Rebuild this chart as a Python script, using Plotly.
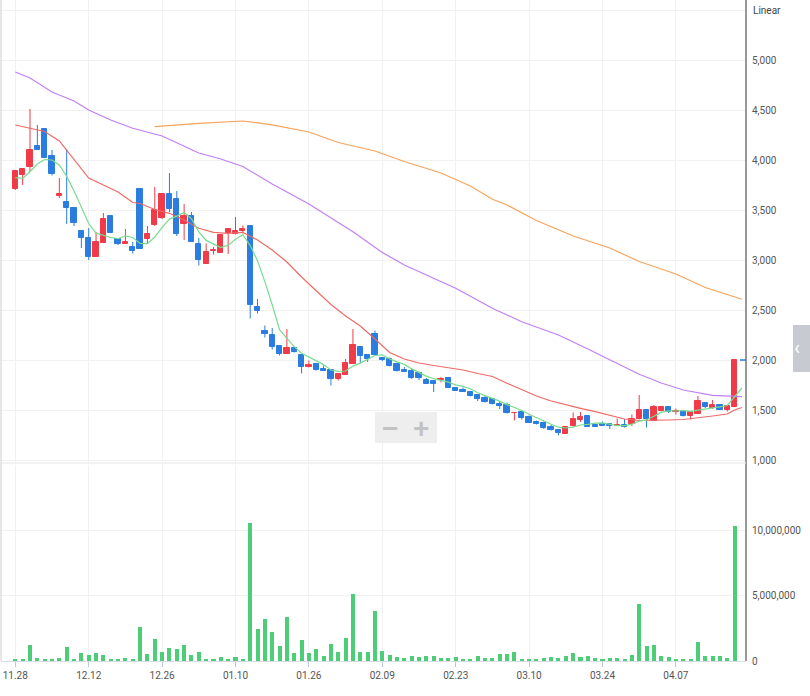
import plotly.graph_objects as go
import pandas as pd

# ---------------- DATA ----------------
dates = [
    "2022-11-28", "2022-11-29", "2022-11-30",
    "2022-12-01", "2022-12-02", "2022-12-05", "2022-12-06", "2022-12-07", "2022-12-08", "2022-12-09",
    "2022-12-12", "2022-12-13", "2022-12-14", "2022-12-15", "2022-12-16", "2022-12-19", "2022-12-20",
    "2022-12-21", "2022-12-22", "2022-12-23", "2022-12-26", "2022-12-27", "2022-12-28", "2022-12-29",
    "2023-01-02", "2023-01-03", "2023-01-04", "2023-01-05", "2023-01-06", "2023-01-09", "2023-01-10",
    "2023-01-11", "2023-01-12", "2023-01-13", "2023-01-16", "2023-01-17", "2023-01-18", "2023-01-19",
    "2023-01-20", "2023-01-25", "2023-01-26", "2023-01-27", "2023-01-30", "2023-01-31",
    "2023-02-01", "2023-02-02", "2023-02-03", "2023-02-06", "2023-02-07", "2023-02-08", "2023-02-09",
    "2023-02-10", "2023-02-13", "2023-02-14", "2023-02-15", "2023-02-16", "2023-02-17", "2023-02-20",
    "2023-02-21", "2023-02-22", "2023-02-23", "2023-02-24", "2023-02-27", "2023-02-28",
    "2023-03-02", "2023-03-03", "2023-03-06", "2023-03-07", "2023-03-08", "2023-03-09", "2023-03-10",
    "2023-03-13", "2023-03-14", "2023-03-15", "2023-03-16", "2023-03-17", "2023-03-20", "2023-03-21",
    "2023-03-22", "2023-03-23", "2023-03-24", "2023-03-27", "2023-03-28", "2023-03-29", "2023-03-30",
    "2023-03-31", "2023-04-03", "2023-04-04", "2023-04-05", "2023-04-06", "2023-04-07", "2023-04-10",
    "2023-04-11", "2023-04-12", "2023-04-13", "2023-04-14", "2023-04-17", "2023-04-18", "2023-04-19",
]

tick_dates = ["2022-11-28", "2022-12-12", "2022-12-26", "2023-01-10", "2023-01-26",
              "2023-02-09", "2023-02-23", "2023-03-10", "2023-03-24", "2023-04-07"]
tick_labels = ["11.28", "12.12", "12.26", "01.10", "01.26", "02.09", "02.23", "03.10", "03.24", "04.07"]

opens = [3710, 3855, 3930, 4140, 4310, 4040, 3645, 3580, 3520, 3290,
         3220, 3035, 3175, 3440, 3210, 3165, 3130, 3710, 3210, 3355,
         3420, 3660, 3610, 3360, 3440, 3160, 2965, 3095, 3075, 3275,
         3260, 3290, 3340, 2530, 2290, 2250, 2140, 2065, 2120, 2050,
         1935, 1960, 1910, 1900, 1815, 1855, 1965, 2130, 2050, 2265,
         2020, 2015, 1960, 1900, 1890, 1870, 1805, 1795, 1800, 1820,
         1720, 1700, 1680, 1650, 1620, 1615, 1565, 1555, 1470, 1485,
         1430, 1380, 1375, 1330, 1305, 1265, 1340, 1400, 1440, 1350,
         1365, 1365, 1345, 1350, 1360, 1410, 1500, 1395, 1490, 1530,
         1485, 1495, 1445, 1465, 1570, 1525, 1555, 1500, 1535]
highs = [3900, 3920, 4510, 4350, 4310, 4100, 3820, 4110, 3525, 3290,
         3320, 3280, 3470, 3450, 3210, 3310, 3180, 3710, 3340, 3730,
         3670, 3870, 3690, 3560, 3480, 3220, 3165, 3130, 3255, 3315,
         3430, 3345, 3350, 2610, 2345, 2320, 2140, 2310, 2135, 2050,
         1995, 1965, 1945, 1905, 1870, 2010, 2310, 2135, 2055, 2295,
         2030, 2025, 1975, 1930, 1915, 1885, 1820, 1800, 1830, 1825,
         1725, 1725, 1685, 1660, 1645, 1620, 1585, 1575, 1480, 1490,
         1445, 1395, 1385, 1350, 1310, 1340, 1475, 1480, 1445, 1355,
         1385, 1370, 1415, 1410, 1455, 1650, 1505, 1550, 1540, 1535,
         1515, 1500, 1485, 1640, 1575, 1600, 1560, 1550, 2000]
lows = [3700, 3750, 3880, 4100, 4020, 3845, 3620, 3360, 3340, 3120,
        3000, 3030, 3170, 3270, 3150, 3160, 3065, 3110, 3165, 3340,
        3410, 3480, 3240, 3200, 3180, 2945, 2960, 3055, 3070, 3060,
        3255, 3265, 2415, 2465, 2225, 2105, 2045, 2060, 2075, 1865,
        1925, 1895, 1890, 1745, 1795, 1850, 1960, 1970, 1980, 2050,
        1990, 1935, 1885, 1880, 1810, 1800, 1760, 1680, 1775, 1720,
        1690, 1680, 1635, 1590, 1575, 1555, 1510, 1465, 1395, 1405,
        1370, 1355, 1310, 1295, 1245, 1260, 1335, 1380, 1330, 1330,
        1340, 1310, 1340, 1325, 1340, 1405, 1325, 1390, 1485, 1470,
        1455, 1435, 1405, 1460, 1520, 1510, 1500, 1485, 1530]
closes = [3890, 3910, 4100, 4100, 4025, 3865, 3665, 3525, 3375, 3225,
          3035, 3180, 3410, 3275, 3165, 3180, 3095, 3115, 3260, 3500,
          3660, 3510, 3265, 3445, 3185, 3005, 3080, 3100, 3250, 3310,
          3295, 3310, 2555, 2495, 2265, 2135, 2065, 2120, 2085, 1935,
          1950, 1905, 1895, 1815, 1865, 1970, 2150, 2045, 2010, 2050,
          2005, 1945, 1895, 1885, 1825, 1825, 1765, 1765, 1810, 1725,
          1695, 1685, 1645, 1615, 1580, 1560, 1545, 1470, 1475, 1425,
          1375, 1365, 1325, 1300, 1275, 1335, 1410, 1430, 1335, 1335,
          1345, 1345, 1355, 1335, 1410, 1500, 1410, 1530, 1530, 1485,
          1495, 1445, 1480, 1590, 1530, 1555, 1505, 1545, 2000]
volumes = [155000, 77000, 1240000, 232000, 155000, 155000, 232000, 1110000, 155000, 620000,
           464000, 620000, 464000, 155000, 155000, 232000, 155000, 2630000, 541000, 1700000,
           696000, 1030000, 928000, 1240000, 464000, 696000, 155000, 77000, 309000, 155000,
           309000, 77000, 10550000, 2470000, 3250000, 2240000, 1160000, 3400000, 620000, 1620000,
           620000, 928000, 387000, 1310000, 696000, 1780000, 5100000, 696000, 696000, 3790000,
           773000, 464000, 309000, 232000, 387000, 309000, 387000, 387000, 232000, 232000,
           309000, 155000, 155000, 387000, 232000, 232000, 541000, 541000, 696000, 155000,
           155000, 155000, 232000, 309000, 232000, 387000, 620000, 309000, 387000, 232000,
           155000, 232000, 232000, 155000, 464000, 4330000, 1160000, 1240000, 387000, 309000,
           155000, 155000, 155000, 1470000, 387000, 387000, 387000, 232000, 10360000]

# MA5 values before enough history, rest computed from closes
ma5_head = [3823, 3817, 3883, 3960]
ma5_next = 1720  # value drawn one step past the last session

# longer moving averages (session index -> value)
ma20_idx = [0, 2, 4, 6, 8, 10, 12, 14, 16, 17, 19, 21, 23, 25, 27, 29, 31, 33, 35, 37, 39,
            41, 43, 45, 47, 49, 51, 53, 55, 57, 59, 61, 63, 65, 67, 69, 71, 73, 75, 77, 79,
            81, 83, 85, 87, 89, 91, 93, 95, 97, 98, 99]
ma20_val = [4350, 4320, 4285, 4190, 4010, 3820, 3750, 3680, 3575, 3565, 3505, 3467, 3400,
            3317, 3277, 3267, 3277, 3200, 3100, 2980, 2830, 2690, 2555, 2440, 2340, 2210,
            2075, 2010, 1970, 1945, 1920, 1900, 1865, 1835, 1767, 1700, 1640, 1590, 1550,
            1517, 1483, 1445, 1410, 1395, 1395, 1400, 1405, 1420, 1440, 1460, 1500, 1525]

ma60_idx = [0, 2, 5, 8, 10, 13, 16, 20, 25, 28, 31, 35, 40, 46, 50, 53, 60, 65, 69, 74,
            78, 81, 85, 88, 91, 95, 99]
ma60_val = [4880, 4820, 4680, 4590, 4500, 4400, 4317, 4240, 4070, 4010, 3935, 3760, 3560,
            3283, 3075, 2950, 2717, 2517, 2383, 2250, 2110, 2000, 1857, 1770, 1700, 1647, 1633]

ma120_idx = [19, 25, 31, 35, 40, 44, 49, 53, 58, 62, 65, 67, 71, 76, 81, 85, 90, 94, 99]
ma120_val = [4333, 4367, 4390, 4352, 4280, 4175, 4090, 3985, 3870, 3740, 3607, 3550, 3395,
             3240, 3120, 2985, 2860, 2725, 2607]

# ---------------- BUILD ----------------
RED = "#f13b49"
BLUE = "#2b7de0"
x = list(range(len(dates)))
tickvals = [dates.index(d) for d in tick_dates]

ma5 = pd.Series(closes).rolling(5).mean().tolist()
ma5[:4] = ma5_head
ma5_x = x + [len(dates)]
ma5_y = ma5 + [ma5_next]

body_base = [min(o, c) for o, c in zip(opens, closes)]
body_h = [abs(c - o) for o, c in zip(opens, closes)]
body_col = [RED if c >= o else BLUE for o, c in zip(opens, closes)]


def wick_xy(up):
    xs, ys = [], []
    for i, (o, h, l, c) in enumerate(zip(opens, highs, lows, closes)):
        if (c >= o) == up:
            xs += [i, i, None]
            ys += [l, h, None]
    return xs, ys


fig = go.Figure()

wx, wy = wick_xy(True)
fig.add_trace(go.Scatter(x=wx, y=wy, mode="lines", line=dict(color=RED, width=1),
                         hoverinfo="skip", showlegend=False))
wx, wy = wick_xy(False)
fig.add_trace(go.Scatter(x=wx, y=wy, mode="lines", line=dict(color=BLUE, width=1),
                         hoverinfo="skip", showlegend=False))
fig.add_trace(go.Bar(x=x, y=body_h, base=body_base, width=0.72,
                     marker=dict(color=body_col, line=dict(color=body_col, width=1)),
                     showlegend=False, xaxis="x", yaxis="y"))

fig.add_trace(go.Scatter(x=ma120_idx, y=ma120_val, mode="lines",
                         line=dict(color="#f6a35b", width=1.2), showlegend=False))
fig.add_trace(go.Scatter(x=ma60_idx, y=ma60_val, mode="lines",
                         line=dict(color="#c17ff6", width=1.2), showlegend=False))
fig.add_trace(go.Scatter(x=ma20_idx, y=ma20_val, mode="lines",
                         line=dict(color="#ef6a66", width=1.2), showlegend=False))
fig.add_trace(go.Scatter(x=ma5_x, y=ma5_y, mode="lines",
                         line=dict(color="#78dc8f", width=1.2), showlegend=False))

fig.add_trace(go.Bar(x=x, y=volumes, width=0.55, marker=dict(color="#4ecd78", line=dict(width=0)),
                     showlegend=False, xaxis="x2", yaxis="y2"))

GRID = "#f1f1f1"
FONT = dict(family="Roboto, Liberation Sans, Arial", size=10, color="#555555")
PRICE_BOTTOM = (661 - 463) / 661
VOL_TOP = (661 - 465) / 661

fig.update_layout(
    width=810, height=696,
    margin=dict(l=1, r=64, t=0, b=35),
    paper_bgcolor="white", plot_bgcolor="white",
    bargap=0, showlegend=False,
    font=FONT,
    xaxis=dict(domain=[0, 1], anchor="y", range=[-1.95, 99.55], tickvals=tickvals,
               showticklabels=False, showgrid=True, gridcolor=GRID, zeroline=False,
               showline=False, ticks=""),
    xaxis2=dict(domain=[0, 1], anchor="y2", matches="x", range=[-1.95, 99.55],
                tickvals=tickvals, ticktext=tick_labels, showgrid=True, gridcolor=GRID,
                zeroline=False, showline=True, linecolor="#d6dce6", linewidth=1,
                ticks="outside", ticklen=5, tickcolor="#bcc6d8", tickfont=FONT),
    yaxis=dict(domain=[PRICE_BOTTOM, 1], anchor="x", side="right", range=[970, 5600],
               tickvals=[1000, 1500, 2000, 2500, 3000, 3500, 4000, 4500, 5000, 5500],
               ticktext=["1,000", "1,500", "2,000", "2,500", "3,000", "3,500", "4,000",
                         "4,500", "5,000", ""],
               showgrid=True, gridcolor=GRID, zeroline=False, showline=False,
               ticks="", ticklabelstandoff=5, tickfont=FONT),
    yaxis2=dict(domain=[0, VOL_TOP], anchor="x2", side="right", range=[0, 15.0e6],
                tickvals=[0, 5e6, 10e6], ticktext=["0", "5,000,000", "10,000,000"],
                showgrid=True, gridcolor=GRID, zeroline=False, showline=False,
                ticks="", ticklabelstandoff=5, tickfont=FONT),
)

shapes = [
    dict(type="line", xref="paper", yref="paper", x0=1, x1=1, y0=0, y1=1,
         line=dict(color="#333333", width=1)),
    dict(type="line", xref="paper", yref="paper", x0=0, x1=0, y0=0, y1=1,
         line=dict(color="#cccccc", width=1)),
    dict(type="line", xref="paper", yref="paper", x0=0, x1=1, y0=PRICE_BOTTOM, y1=PRICE_BOTTOM,
         line=dict(color="#e6e6e6", width=1)),
    dict(type="line", xref="paper", yref="y", x0=(740 - 1) / 745, x1=1, y0=closes[-1], y1=closes[-1],
         line=dict(color=BLUE, width=1.5)),
    dict(type="rect", xref="paper", yref="paper", x0=(375 - 1) / 745, x1=(437 - 1) / 745,
         y0=(661 - 443) / 661, y1=(661 - 412) / 661, fillcolor="#eeeeee", line=dict(width=0),
         layer="above"),
    dict(type="rect", xref="paper", yref="paper", x0=(793 - 1) / 745, x1=(812 - 1) / 745,
         y0=(661 - 372) / 661, y1=(661 - 325) / 661, fillcolor="#c7cbd1", line=dict(width=0)),
]
fig.update_layout(shapes=shapes)

fig.add_annotation(xref="paper", yref="y", x=(751 - 1) / 745, y=5500, text="Linear",
                   showarrow=False, xanchor="left", yanchor="middle",
                   font=dict(family="Roboto, Liberation Sans, Arial", size=10, color="#444444"))
fig.add_annotation(xref="paper", yref="paper", x=(390 - 1) / 745, y=(661 - 428) / 661, text="<b>−</b>",
                   showarrow=False, font=dict(family="Arial", size=28, color="#c2c2c2"))
fig.add_annotation(xref="paper", yref="paper", x=(421 - 1) / 745, y=(661 - 428) / 661, text="<b>+</b>",
                   showarrow=False, font=dict(family="Arial", size=28, color="#c2c2c2"))
fig.add_annotation(xref="paper", yref="paper", x=(802 - 1) / 745, y=(661 - 348) / 661, text="‹",
                   showarrow=False, font=dict(size=20, color="#ffffff"))

fig.write_html("out.html")
